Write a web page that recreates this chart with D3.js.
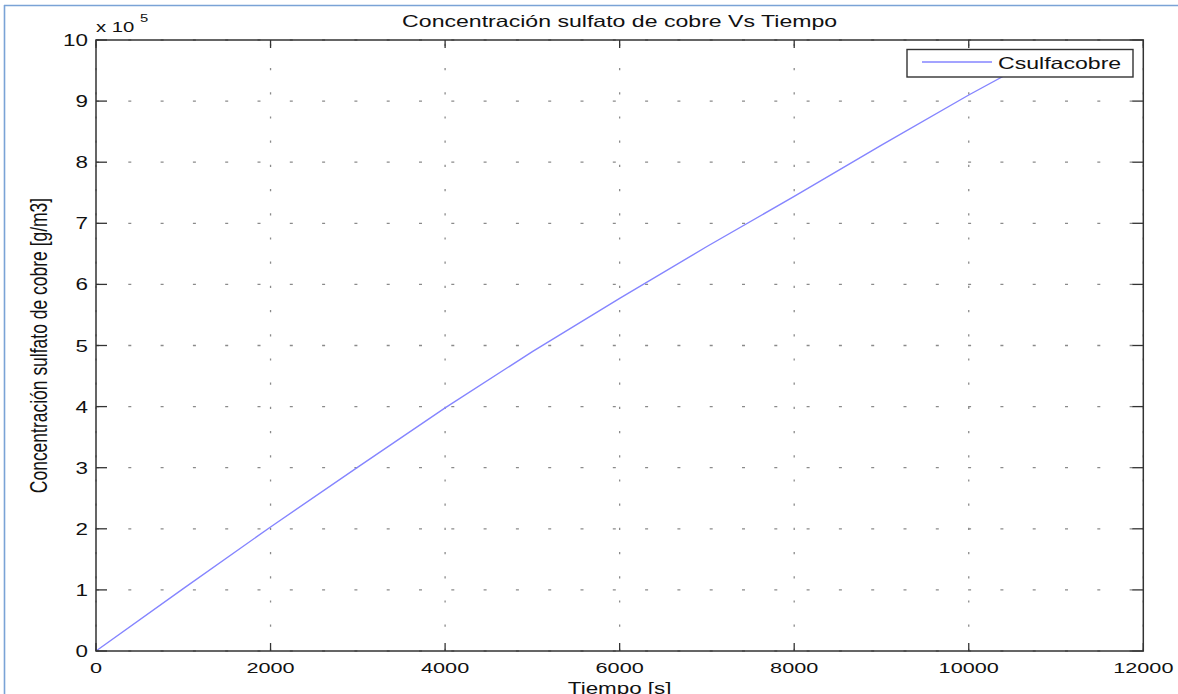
<!DOCTYPE html>
<html>
<head>
<meta charset="utf-8">
<title>Concentración sulfato de cobre Vs Tiempo</title>
<script src="https://cdn.jsdelivr.net/npm/d3@7"></script>
<style>
	body { margin: 0; background: #fff; }
	svg { display: block; font-family: "Liberation Sans", Arial, sans-serif; }
</style>
</head>
<body>
<div id="viz"></div>
<script>

// time in seconds and copper sulphate concentration in g/m3
var tiempo = [0, 1000, 2000, 3000, 4000, 5000, 6000, 7000, 8000, 9000, 10000, 10800];
var csulfacobre = [0, 102000, 203000, 301000, 398000, 490000, 577000, 662000, 744000, 828000, 910000, 972000];

var xTicks = [0, 2000, 4000, 6000, 8000, 10000, 12000];
var yTicks = [0, 100000, 200000, 300000, 400000, 500000, 600000, 700000, 800000, 900000, 1000000];
var yTickLabels = ["0", "1", "2", "3", "4", "5", "6", "7", "8", "9", "10"];

var width = 1178, height = 694;
// NOTE: "top" is taken by window.top, so the plot box gets its own names
var plotLeft = 96, plotRight = 1143.3, plotTop = 40, plotBottom = 651;
// the original image was stretched sideways, so text is too
var stretchX = 1.4;

var svg = d3.select("#viz")
	.append("svg")
	.attr("width", width)
	.attr("height", height);

var x = d3.scaleLinear().domain([0, 12000]).range([plotLeft, plotRight]);
var y = d3.scaleLinear().domain([0, 1000000]).range([plotBottom, plotTop]);

// places a stretched text at (px, py)
function stretchedText(g, str, px, py, anchor, size){

	return g.append("text")
		.attr("transform", "translate(" + px + "," + py + ") scale(" + stretchX + ",1)")
		.attr("text-anchor", anchor)
		.style("font-size", size + "px")
		.style("fill", "#111")
		.text(str);
}

function drawFrame(){

	svg.append("line")
		.attr("x1", 4.5).attr("y1", 5).attr("x2", 4.5).attr("y2", height)
		.style("stroke", "#7aa3d6").style("stroke-width", 1.6);
	svg.append("line")
		.attr("x1", 4).attr("y1", 5.5).attr("x2", width).attr("y2", 5.5)
		.style("stroke", "#7aa3d6").style("stroke-width", 1.6);
}

function drawGrid(){

	var grid = svg.append("g").style("stroke", "#8a8a8a").style("stroke-width", 1.3);

	grid.selectAll("line.h")
		.data(yTicks)
		.enter().append("line")
		.attr("class", "h")
		.attr("x1", plotLeft).attr("x2", plotRight)
		.attr("y1", function(d){ return y(d); })
		.attr("y2", function(d){ return y(d); })
		.style("stroke-dasharray", "3,29.3");

	// vertical grid drawn from the bottom up
	grid.selectAll("line.v")
		.data(xTicks)
		.enter().append("line")
		.attr("class", "v")
		.attr("x1", function(d){ return x(d); })
		.attr("x2", function(d){ return x(d); })
		.attr("y1", plotBottom).attr("y2", plotTop)
		.style("stroke-dasharray", "2.2,22");
}

function drawAxes(){

	var ax = svg.append("g");

	// ticks point inward on all four sides
	var tickY = 8, tickX = 11;
	var ticks = ax.append("g").style("stroke", "#333").style("stroke-width", 1.3);

	xTicks.forEach(function(d){
		ticks.append("line").attr("x1", x(d)).attr("x2", x(d)).attr("y1", plotBottom).attr("y2", plotBottom - tickY);
		ticks.append("line").attr("x1", x(d)).attr("x2", x(d)).attr("y1", plotTop).attr("y2", plotTop + tickY);
	});
	yTicks.forEach(function(d){
		ticks.append("line").attr("x1", plotLeft).attr("x2", plotLeft + tickX).attr("y1", y(d)).attr("y2", y(d));
		ticks.append("line").attr("x1", plotRight).attr("x2", plotRight - tickX).attr("y1", y(d)).attr("y2", y(d));
	});

	ax.append("rect")
		.attr("x", plotLeft).attr("y", plotTop)
		.attr("width", plotRight - plotLeft).attr("height", plotBottom - plotTop)
		.style("fill", "none")
		.style("stroke", "#333")
		.style("stroke-width", 1.5);

	xTicks.forEach(function(d){
		stretchedText(ax, String(d), x(d), 672.5, "middle", 15.5);
	});
	yTicks.forEach(function(d, i){
		stretchedText(ax, yTickLabels[i], 88, y(d) + 6, "end", 16);
	});

	// multiplier above the y axis
	stretchedText(ax, "x 10", 96, 31.5, "start", 14.5);
	stretchedText(ax, "5", 140, 21.5, "start", 10.5);
}

function drawLabels(){

	stretchedText(svg, "Concentración sulfato de cobre Vs Tiempo", (plotLeft + plotRight) / 2, 27, "middle", 16.5);
	stretchedText(svg, "Tiempo [s]", (plotLeft + plotRight) / 2, 693.5, "middle", 16);

	svg.append("text")
		.attr("transform", "translate(47," + ((plotTop + plotBottom) / 2) + ") scale(" + stretchX + ",1) rotate(-90)")
		.attr("text-anchor", "middle")
		.style("font-size", "17.5px")
		.style("fill", "#111")
		.text("Concentración sulfato de cobre [g/m3]");
}

function drawSeries(){

	var line = d3.line()
		.x(function(d, i){ return x(tiempo[i]); })
		.y(function(d){ return y(d); });

	svg.append("path")
		.datum(csulfacobre)
		.attr("d", line)
		.style("fill", "none")
		.style("stroke", "#8585ff")
		.style("stroke-width", 1.4);
}

function drawLegend(){

	var lg = svg.append("g");

	lg.append("rect")
		.attr("x", 907).attr("y", 49.5)
		.attr("width", 226).attr("height", 27.5)
		.style("fill", "#fff")
		.style("stroke", "#333")
		.style("stroke-width", 1.4);

	lg.append("line")
		.attr("x1", 922).attr("x2", 992).attr("y1", 62).attr("y2", 62)
		.style("stroke", "#8585ff").style("stroke-width", 1.4);

	stretchedText(lg, "Csulfacobre", 998, 68.5, "start", 16.5);
}

drawFrame();
drawGrid();
drawSeries();
drawAxes();
drawLegend();
drawLabels();

</script>
</body>
</html>
